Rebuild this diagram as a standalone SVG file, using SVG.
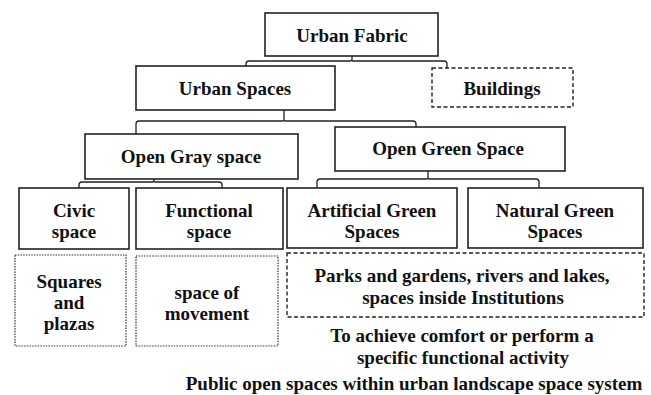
<svg xmlns="http://www.w3.org/2000/svg" width="651" height="395" viewBox="0 0 651 395">
  <style>
    .box { fill: #fff; stroke: #222; stroke-width: 1.6; }
    .dash { fill: #fff; stroke: #222; stroke-width: 1.4; stroke-dasharray: 4 2.5; }
    .dot { fill: #fff; stroke: #333; stroke-width: 1.2; stroke-dasharray: 1.5 1.2; }
    .link { fill: none; stroke: #222; stroke-width: 1.3; }
    text { font-family: "Liberation Serif", "Times New Roman", serif; font-weight: bold; font-size: 19px; fill: #111; text-anchor: middle; dominant-baseline: central; }
  </style>
  <rect width="651" height="395" fill="#fff"/>

  <!-- bracket connectors from each parent to its children -->
  <g id="connectors">
    <path class="link" d="M352,56 V59 Q352,61 350,61 H249 Q246,61 246,64 V70 M352,61 H444 Q447,61 447,64 V70"/>
    <path class="link" d="M284,110 V119 Q284,121 282,121 H139 Q136,121 136,124 V134 M284,121 H413 Q416,121 416,124 V131"/>
    <path class="link" d="M154,179 V180 Q154,182 152,182 H82 Q79,182 79,185 V188 M154,182 H219 Q222,182 222,185 V188"/>
    <path class="link" d="M428,171 V177 Q428,179 426,179 H320 Q317,179 317,182 V188 M428,179 H536 Q539,179 539,182 V188"/>
  </g>

  <g id="urban-fabric">
    <rect class="box" x="265" y="13" width="173" height="43"/>
    <text x="352" y="35">Urban Fabric</text>
  </g>
  <g id="urban-spaces">
    <rect class="box" x="136" y="66" width="199" height="44"/>
    <text x="235" y="88">Urban Spaces</text>
  </g>
  <g id="buildings">
    <rect class="dash" x="432" y="68" width="141" height="39"/>
    <text x="502" y="88">Buildings</text>
  </g>
  <g id="open-gray-space">
    <rect class="box" x="85" y="134" width="213" height="45"/>
    <text x="191" y="156">Open Gray space</text>
  </g>
  <g id="open-green-space">
    <rect class="box" x="335" y="127" width="230" height="44"/>
    <text x="448" y="148">Open Green Space</text>
  </g>
  <g id="civic-space">
    <rect class="box" x="19" y="188" width="110" height="61"/>
    <text x="74" y="210">Civic</text>
    <text x="74" y="231">space</text>
  </g>
  <g id="functional-space">
    <rect class="box" x="136" y="188" width="147" height="61"/>
    <text x="209" y="210">Functional</text>
    <text x="209" y="231">space</text>
  </g>
  <g id="artificial-green-spaces">
    <rect class="box" x="287" y="188" width="170" height="60"/>
    <text x="372" y="210">Artificial Green</text>
    <text x="372" y="231">Spaces</text>
  </g>
  <g id="natural-green-spaces">
    <rect class="box" x="468" y="188" width="175" height="60"/>
    <text x="555" y="210">Natural Green</text>
    <text x="555" y="231">Spaces</text>
  </g>
  <g id="squares-plazas">
    <rect class="dot" x="15" y="255" width="111" height="91"/>
    <text x="69" y="281">Squares</text>
    <text x="69" y="302">and</text>
    <text x="69" y="323">plazas</text>
  </g>
  <g id="space-of-movement">
    <rect class="dot" x="136" y="256" width="142" height="90"/>
    <text x="207" y="292">space of</text>
    <text x="207" y="313">movement</text>
  </g>
  <g id="parks-gardens">
    <rect class="dash" x="287" y="253" width="357" height="64"/>
    <text x="462" y="275">Parks and gardens, rivers and lakes,</text>
    <text x="463" y="297">spaces inside Institutions</text>
  </g>
  <g id="purpose-note">
    <text x="462" y="335">To achieve comfort or perform a</text>
    <text x="463" y="357">specific functional activity</text>
  </g>
  <g id="caption">
    <text x="414" y="383">Public open spaces within urban landscape space system</text>
  </g>
</svg>
